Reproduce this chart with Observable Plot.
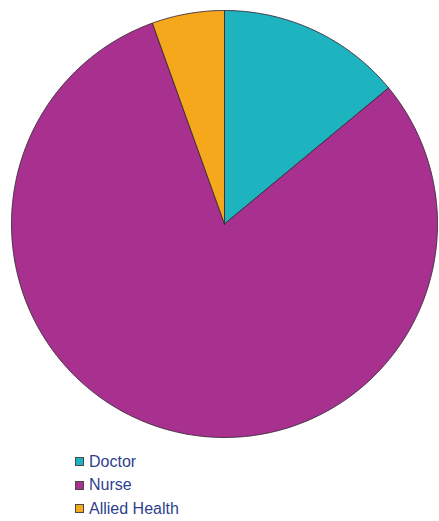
<!DOCTYPE html>
<html>
<head>
<meta charset="utf-8">
<script src="https://cdn.jsdelivr.net/npm/d3@7"></script>
<script src="https://cdn.jsdelivr.net/npm/@observablehq/plot@0.6"></script>
<style>
  html, body { margin: 0; padding: 0; background: #fff; }
  #chart svg { display: block; }
  .legend { margin: 2px 0 0 75px; font-family: "Liberation Sans", Arial, sans-serif; font-size: 16px; color: #2e3f8c; }
  .legend div { display: flex; align-items: center; height: 23.5px; }
  .legend span.sw { display: inline-block; box-sizing: border-box; width: 9px; height: 9px; border: 1px solid #4a4a4a; margin-right: 5px; }
</style>
</head>
<body>
<div id="chart"></div>
<div class="legend" id="legend"></div>
<script>
const categories = ["Doctor", "Nurse", "Allied Health"];
const values = [14.0, 80.5, 5.5];
const colors = ["#1db4bf", "#a8308f", "#f6a81d"];

const pie = d3.pie().sort(null).value(d => d.value)(categories.map((c, i) => ({category: c, value: values[i]})));
const pts = [];
for (const s of pie) {
  const n = Math.max(4, Math.ceil((s.endAngle - s.startAngle) / 0.01));
  pts.push({category: s.data.category, x: 0, y: 0});
  for (let k = 0; k <= n; k++) {
    const a = s.startAngle + (s.endAngle - s.startAngle) * k / n;
    pts.push({category: s.data.category, x: Math.sin(a), y: Math.cos(a)});
  }
  pts.push({category: s.data.category, x: 0, y: 0});
}

const chart = Plot.plot({
  width: 439,
  height: 448,
  margin: 0,
  x: {domain: [-1, 1], range: [11, 437], axis: null},
  y: {domain: [-1, 1], range: [437, 10], axis: null},
  color: {domain: categories, range: colors},
  marks: [
    Plot.line(pts, {x: "x", y: "y", z: "category", fill: "category", stroke: "#3b2a3a", strokeWidth: 0.9, curve: "linear-closed"})
  ]
});
document.getElementById("chart").append(chart);

const leg = document.getElementById("legend");
categories.forEach((c, i) => {
  const d = document.createElement("div");
  d.innerHTML = `<span class="sw" style="background:${colors[i]}"></span>${c}`;
  leg.append(d);
});
</script>
</body>
</html>
